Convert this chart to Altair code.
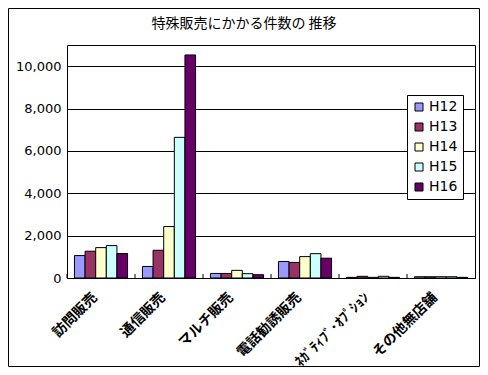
import altair as alt
import pandas as pd

categories = ["訪問販売", "通信販売", "マルチ販売", "電話勧誘販売", "ﾈｶﾞﾃｨﾌﾞ･ｵﾌﾟｼｮﾝ", "その他無店舗"]
series = ["H12", "H13", "H14", "H15", "H16"]
values = {
    "H12": [1060, 545, 215, 780, 30, 60],
    "H13": [1265, 1310, 215, 735, 80, 60],
    "H14": [1435, 2430, 360, 1010, 30, 60],
    "H15": [1530, 6640, 205, 1150, 80, 60],
    "H16": [1155, 10530, 155, 935, 30, 30],
}
colors = ["#9999FF", "#993366", "#FFFFCC", "#CCFFFF", "#660066"]
y_ticks = [0, 2000, 4000, 6000, 8000, 10000]
title_text = "特殊販売にかかる件数の 推移"

rows = []
for s in series:
    for c, v in zip(categories, values[s]):
        rows.append({"cat": c, "series": s, "value": v})
df = pd.DataFrame(rows)

W, H = 408, 233
PL, PT, PR, PB = 59, 37, 5, 89

xscale = alt.Scale(paddingInner=0, paddingOuter=0)

bars = alt.Chart(df).mark_bar(stroke="black", strokeWidth=1).encode(
    x=alt.X("cat:N", sort=categories, scale=xscale,
            axis=alt.Axis(title=None, labelAngle=-45, ticks=False, domain=False, grid=False,
                          labelFont="Noto Sans CJK JP", labelFontSize=14, labelFontWeight="bold",
                          labelAlign="right", labelBaseline="middle", labelPadding=17,
                          labelOffset=-6, labelColor="black", labelLimit=0)),
    xOffset=alt.XOffset("series:N", sort=series, scale=alt.Scale(paddingInner=0, paddingOuter=0.7)),
    y=alt.Y("value:Q", scale=alt.Scale(domain=[0, 11000], nice=False),
            axis=alt.Axis(title=None, values=y_ticks, format=",d", ticks=False, domain=False,
                          grid=True, gridColor="black", gridOpacity=1, gridWidth=1,
                          labelFont="DejaVu Sans", labelFontSize=13, labelPadding=6,
                          labelColor="black")),
    color=alt.Color("series:N", sort=series, scale=alt.Scale(domain=series, range=colors),
                    legend=alt.Legend(title=None, orient="none", legendX=340, legendY=50,
                                      fillColor="white", strokeColor="black", padding=5,
                                      symbolType="square", symbolSize=64,
                                      symbolStrokeColor="black", symbolStrokeWidth=1,
                                      symbolOpacity=1,
                                      labelFont="DejaVu Sans", labelFontSize=14,
                                      labelColor="black", rowPadding=6, labelOffset=3)),
)

tick_df = pd.DataFrame({"cat": categories})
ticks = alt.Chart(tick_df).mark_rule(color="black", strokeWidth=1).encode(
    x=alt.X("cat:N", sort=categories, bandPosition=0, scale=xscale),
    y=alt.value(H - 4),
    y2=alt.value(H),
)

one = pd.DataFrame({"t": [title_text]})
border = alt.Chart(one).mark_rect(fillOpacity=0, fill="white", stroke="black", strokeWidth=1).encode(
    x=alt.value(-PL + 0.5), x2=alt.value(W + PR - 0.5),
    y=alt.value(-PT + 0.5), y2=alt.value(H + PB - 0.5),
)
title = alt.Chart(one).mark_text(font="Noto Sans CJK JP", fontSize=14, color="black",
                                  align="center", baseline="middle").encode(
    x=alt.value((W + PL + PR) / 2 - PL), y=alt.value(-21), text="t:N"
)

chart = alt.layer(border, title, bars, ticks).properties(
    width=W, height=H,
    padding={"left": PL, "top": PT, "right": PR, "bottom": PB},
    autosize=alt.AutoSizeParams(type="none"),
    background="white",
).configure_view(stroke="black", strokeWidth=1)

chart.save("out.html", embed_options={"renderer": "svg", "actions": False})
